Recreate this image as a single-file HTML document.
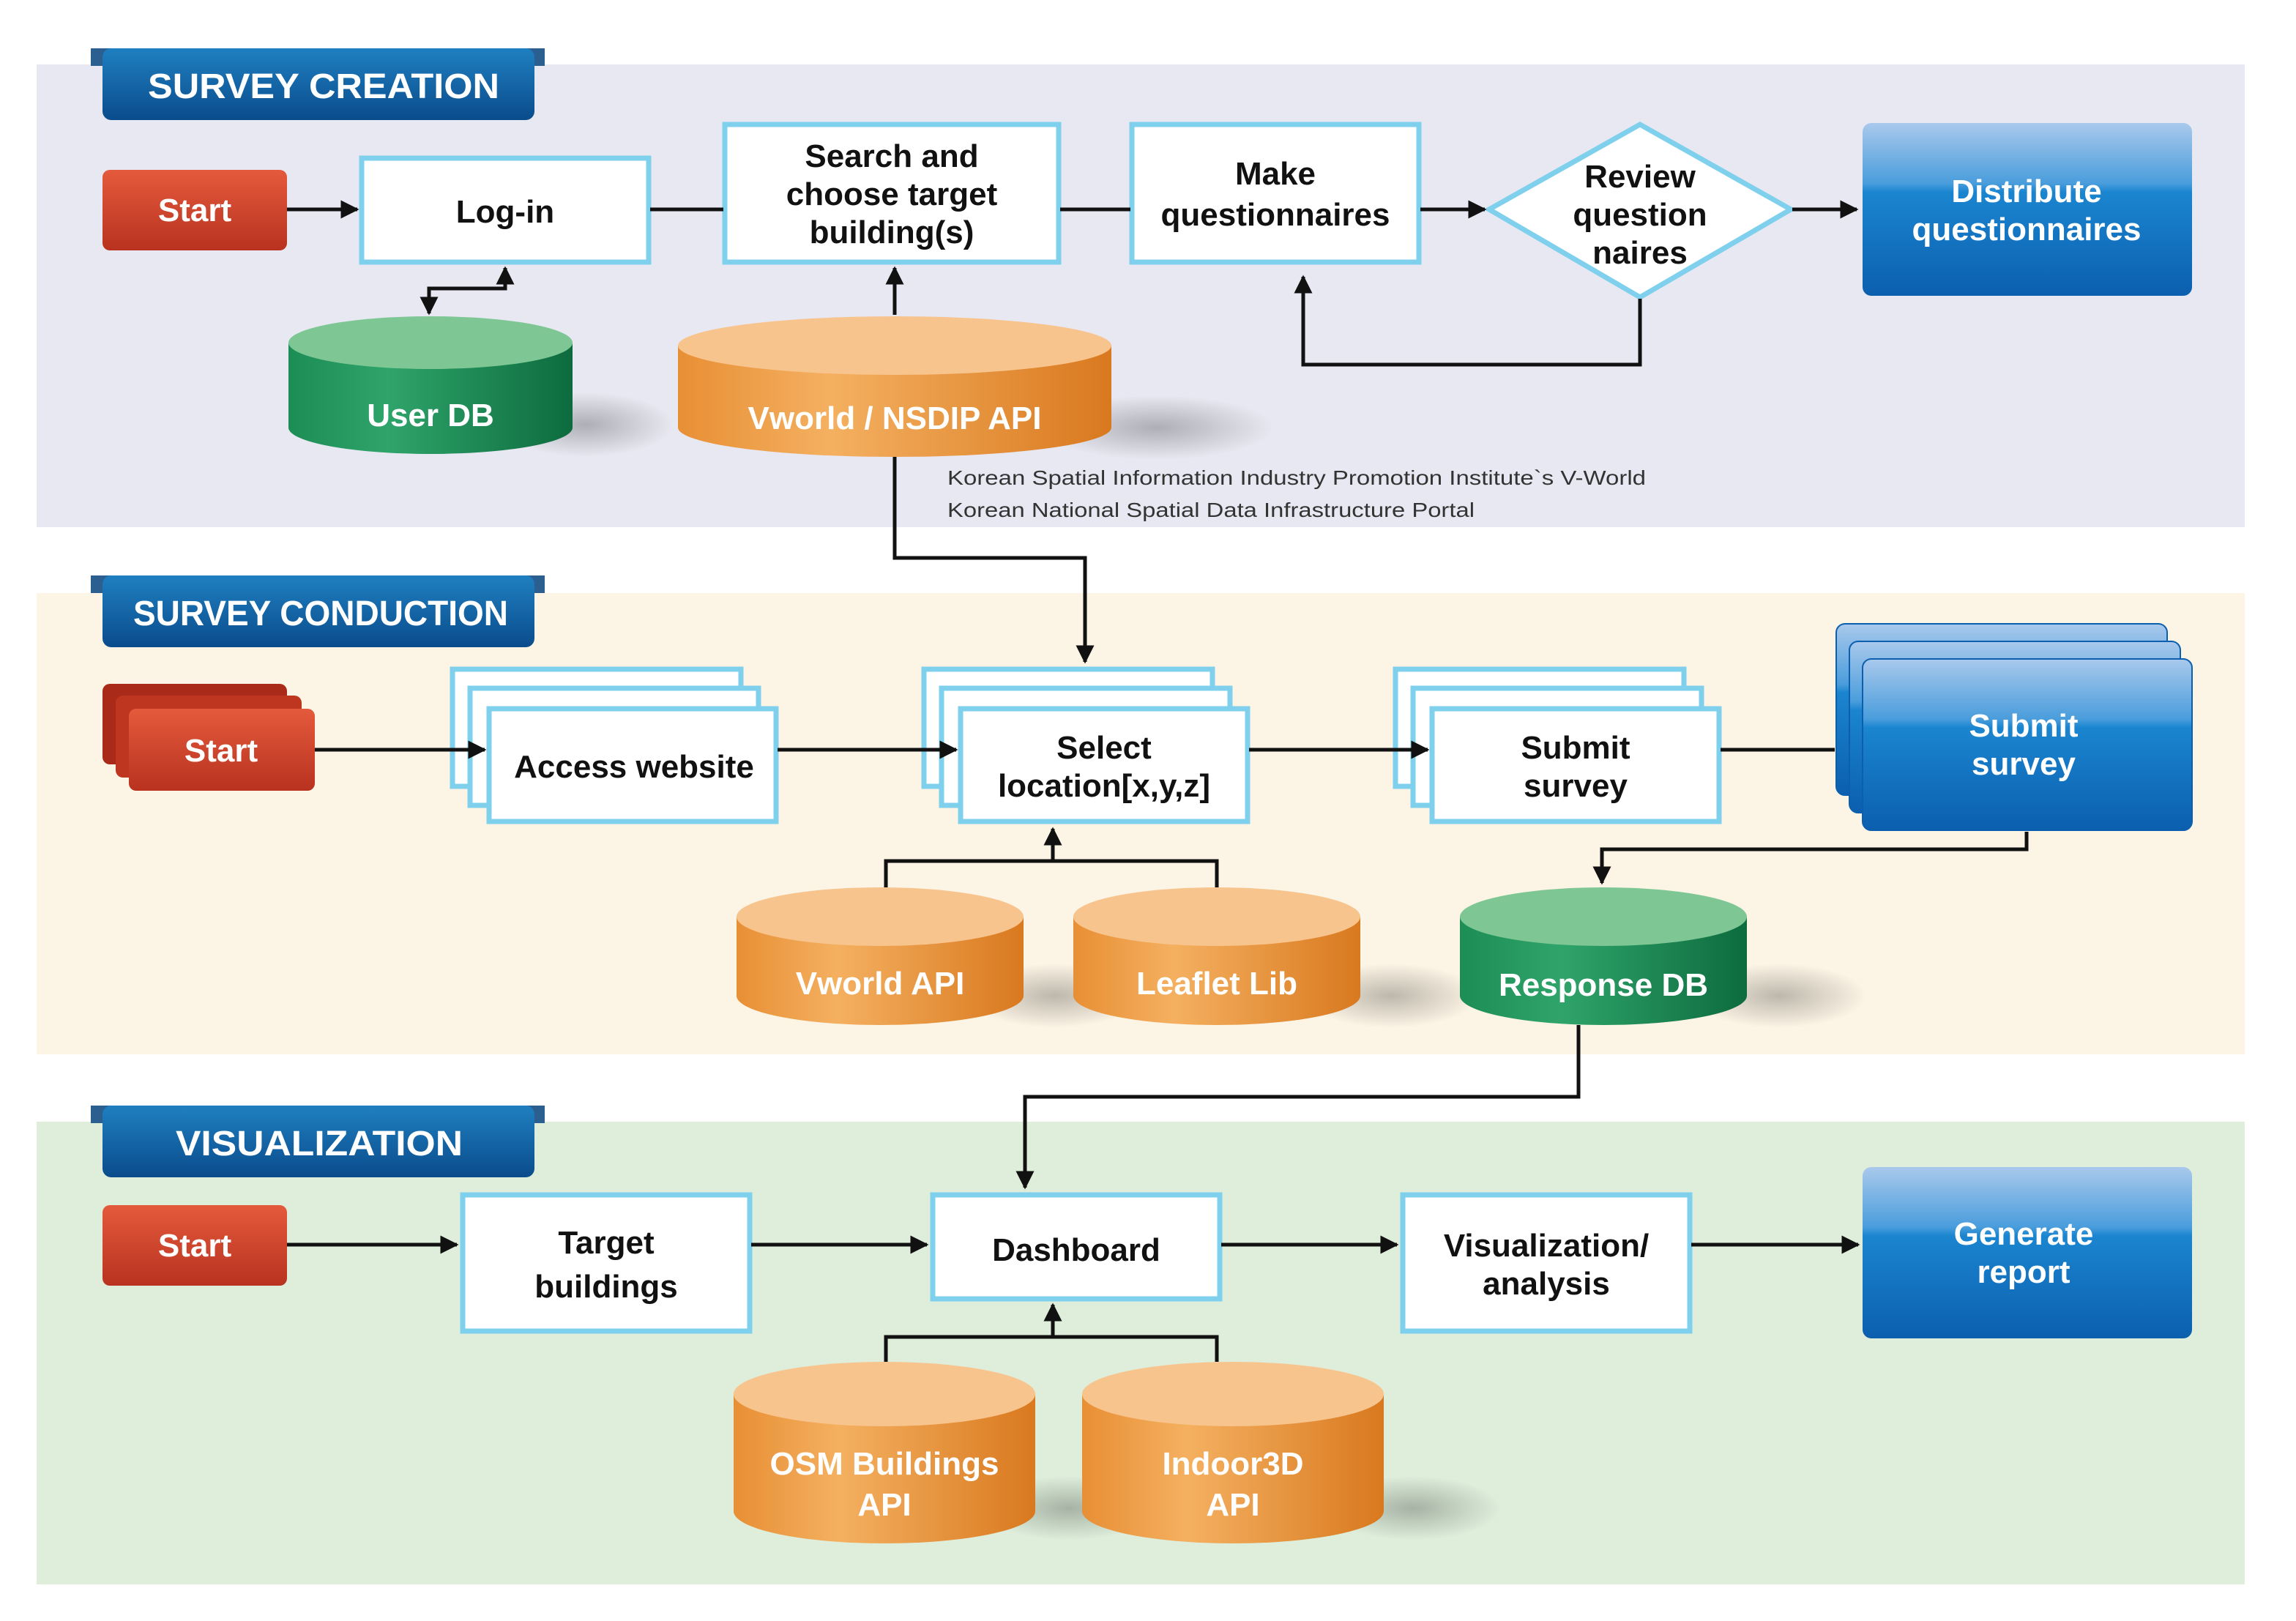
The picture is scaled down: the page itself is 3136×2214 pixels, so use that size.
<!DOCTYPE html>
<html><head><meta charset="utf-8"><style>
html,body{margin:0;padding:0;background:#fff}
svg{display:block}
text{font-family:"Liberation Sans",sans-serif;font-weight:bold}
</style></head><body>
<svg width="3136" height="2214" viewBox="0 0 1568 1107" xmlns="http://www.w3.org/2000/svg">
<defs>
<linearGradient id="tab" x1="0" y1="0" x2="0" y2="1"><stop offset="0" stop-color="#1f7fc0"/><stop offset="1" stop-color="#0a4c8c"/></linearGradient>
<linearGradient id="red" x1="0" y1="0" x2="0" y2="1"><stop offset="0" stop-color="#e45a3c"/><stop offset="1" stop-color="#b8321f"/></linearGradient>
<linearGradient id="blue" x1="0" y1="0" x2="0" y2="1"><stop offset="0" stop-color="#a9c9ec"/><stop offset="0.35" stop-color="#4a9ddc"/><stop offset="0.4" stop-color="#1b85d0"/><stop offset="1" stop-color="#0b5fae"/></linearGradient>
<linearGradient id="gbody" x1="0" y1="0" x2="1" y2="0"><stop offset="0" stop-color="#1c8d55"/><stop offset="0.35" stop-color="#2fa46a"/><stop offset="1" stop-color="#0d6b3e"/></linearGradient>
<linearGradient id="obody" x1="0" y1="0" x2="1" y2="0"><stop offset="0" stop-color="#e88f35"/><stop offset="0.35" stop-color="#f4b060"/><stop offset="1" stop-color="#d9791f"/></linearGradient>
<radialGradient id="shadow"><stop offset="0" stop-color="#000" stop-opacity="0.25"/><stop offset="1" stop-color="#000" stop-opacity="0"/></radialGradient>
<marker id="ah" viewBox="0 0 10 10" refX="9" refY="5" markerWidth="5" markerHeight="5" orient="auto"><path d="M0,0L10,5L0,10z" fill="#111"/></marker>
</defs>

<rect x="25" y="44" width="1508" height="316" fill="#e8e8f2"/>
<rect x="25" y="405" width="1508" height="315" fill="#fcf4e5"/>
<rect x="25" y="766" width="1508" height="316" fill="#deeedb"/>

<g>
<rect x="62" y="33" width="310" height="12" fill="#2a5f8f"/>
<rect x="70" y="33" width="295" height="49" rx="6" fill="url(#tab)"/>
<text x="221" y="67" fill="#fff" font-size="24" text-anchor="middle" textLength="240" lengthAdjust="spacingAndGlyphs">SURVEY CREATION</text>
<rect x="62" y="393" width="310" height="12" fill="#2a5f8f"/>
<rect x="70" y="393" width="295" height="49" rx="6" fill="url(#tab)"/>
<text x="219" y="427" fill="#fff" font-size="24" text-anchor="middle" textLength="256" lengthAdjust="spacingAndGlyphs">SURVEY CONDUCTION</text>
<rect x="62" y="755" width="310" height="12" fill="#2a5f8f"/>
<rect x="70" y="755" width="295" height="49" rx="6" fill="url(#tab)"/>
<text x="218" y="789" fill="#fff" font-size="24" text-anchor="middle" textLength="196" lengthAdjust="spacingAndGlyphs">VISUALIZATION</text>
</g>

<rect x="70" y="116" width="126" height="55" rx="5" fill="url(#red)"/>
<text x="133" y="151" fill="#fff" font-size="22" text-anchor="middle">Start</text>
<rect x="70" y="467" width="126" height="55" rx="5" fill="#a92a18"/>
<rect x="79" y="475" width="127" height="56" rx="5" fill="#bf3620"/>
<rect x="88" y="484" width="127" height="56" rx="5" fill="url(#red)"/>
<text x="151" y="520" fill="#fff" font-size="22" text-anchor="middle">Start</text>
<rect x="70" y="823" width="126" height="55" rx="5" fill="url(#red)"/>
<text x="133" y="858" fill="#fff" font-size="22" text-anchor="middle">Start</text>

<g fill="#fff" stroke="#7fd0ec" stroke-width="3.5">
<rect x="247" y="108" width="196" height="71"/>
<rect x="495" y="85" width="228" height="94"/>
<rect x="773" y="85" width="196" height="94"/>
<polygon points="1120,85 1223,143 1120,203 1017,143"/>
<rect x="309" y="457" width="197" height="80"/>
<rect x="321" y="470" width="197" height="80"/>
<rect x="334" y="484" width="196" height="77"/>
<rect x="631" y="457" width="197" height="80"/>
<rect x="643" y="470" width="197" height="80"/>
<rect x="656" y="484" width="196" height="77"/>
<rect x="953" y="457" width="197" height="80"/>
<rect x="965" y="470" width="197" height="80"/>
<rect x="978" y="484" width="196" height="77"/>
<rect x="316" y="816" width="196" height="93"/>
<rect x="637" y="816" width="196" height="71"/>
<rect x="958" y="816" width="196" height="93"/>
</g>

<rect x="1272" y="84" width="225" height="118" rx="6" fill="url(#blue)"/>
<rect x="1254" y="426" width="226" height="117" rx="6" fill="url(#blue)" stroke="#0b5fae"/>
<rect x="1263" y="438" width="226" height="117" rx="6" fill="url(#blue)" stroke="#0b5fae"/>
<rect x="1272" y="450" width="225" height="117" rx="6" fill="url(#blue)" stroke="#0b5fae"/>
<rect x="1272" y="797" width="225" height="117" rx="6" fill="url(#blue)"/>

<!-- connectors -->
<g stroke="#111" stroke-width="2.5" fill="none">
<line x1="196" y1="143" x2="244" y2="143" marker-end="url(#ah)"/>
<line x1="444" y1="143" x2="494" y2="143"/>
<line x1="724" y1="143" x2="772" y2="143"/>
<line x1="970" y1="143" x2="1014" y2="143" marker-end="url(#ah)"/>
<line x1="1224" y1="143" x2="1268" y2="143" marker-end="url(#ah)"/>
<polyline points="293,200 293,197 345,197 345,183" marker-end="url(#ah)"/>
<line x1="293" y1="197" x2="293" y2="214" marker-end="url(#ah)"/>
<line x1="611" y1="215" x2="611" y2="183" marker-end="url(#ah)"/>
<polyline points="1120,204 1120,249 890,249 890,189" marker-end="url(#ah)"/>
<polyline points="611,312 611,381 741,381 741,452" marker-end="url(#ah)"/>

<line x1="215" y1="512" x2="331" y2="512" marker-end="url(#ah)"/>
<line x1="531" y1="512" x2="653" y2="512" marker-end="url(#ah)"/>
<line x1="853" y1="512" x2="975" y2="512" marker-end="url(#ah)"/>
<line x1="1175" y1="512" x2="1253" y2="512"/>
<polyline points="605,606 605,588 831,588 831,606"/>
<line x1="719" y1="588" x2="719" y2="566" marker-end="url(#ah)"/>
<polyline points="1384,568 1384,580 1094,580 1094,603" marker-end="url(#ah)"/>
<polyline points="1078,700 1078,749 700,749 700,811" marker-end="url(#ah)"/>

<line x1="196" y1="850" x2="312" y2="850" marker-end="url(#ah)"/>
<line x1="513" y1="850" x2="633" y2="850" marker-end="url(#ah)"/>
<line x1="834" y1="850" x2="954" y2="850" marker-end="url(#ah)"/>
<line x1="1155" y1="850" x2="1269" y2="850" marker-end="url(#ah)"/>
<polyline points="605,930 605,913 831,913 831,930"/>
<line x1="719" y1="913" x2="719" y2="891" marker-end="url(#ah)"/>
</g>

<g fill="#111" font-size="22" text-anchor="middle">
<text x="345" y="152">Log-in</text>
<text x="609" y="114">Search and</text>
<text x="609" y="140">choose target</text>
<text x="609" y="166">building(s)</text>
<text x="871" y="126">Make</text>
<text x="871" y="154">questionnaires</text>
<text x="1120" y="128">Review</text>
<text x="1120" y="154">question</text>
<text x="1120" y="180">naires</text>
<text x="433" y="531">Access website</text>
<text x="754" y="518">Select</text>
<text x="754" y="544">location[x,y,z]</text>
<text x="1076" y="518">Submit</text>
<text x="1076" y="544">survey</text>
<text x="414" y="856">Target</text>
<text x="414" y="886">buildings</text>
<text x="735" y="861">Dashboard</text>
<text x="1056" y="858">Visualization/</text>
<text x="1056" y="884">analysis</text>
</g>
<g fill="#fff" font-size="22" text-anchor="middle">
<text x="1384" y="138">Distribute</text>
<text x="1384" y="164">questionnaires</text>
<text x="1382" y="503">Submit</text>
<text x="1382" y="529">survey</text>
<text x="1382" y="850">Generate</text>
<text x="1382" y="876">report</text>
</g>

<g>
<ellipse cx="400" cy="290" rx="60" ry="22" fill="url(#shadow)"/>
<path d="M197,234 L197,292 A97,18 0 0 0 391,292 L391,234 Z" fill="url(#gbody)"/>
<ellipse cx="294" cy="234" rx="97" ry="18" fill="#7ec795"/>
<text x="294" y="291" fill="#fff" font-size="22" text-anchor="middle">User DB</text>

<ellipse cx="790" cy="292" rx="80" ry="22" fill="url(#shadow)"/>
<path d="M463,236 L463,292 A148,20 0 0 0 759,292 L759,236 Z" fill="url(#obody)"/>
<ellipse cx="611" cy="236" rx="148" ry="20" fill="#f8c48e"/>
<text x="611" y="293" fill="#fff" font-size="22" text-anchor="middle">Vworld / NSDIP API</text>

<ellipse cx="720" cy="680" rx="60" ry="22" fill="url(#shadow)"/>
<path d="M503,626 L503,680 A98,20 0 0 0 699,680 L699,626 Z" fill="url(#obody)"/>
<ellipse cx="601" cy="626" rx="98" ry="20" fill="#f8c48e"/>
<text x="601" y="679" fill="#fff" font-size="22" text-anchor="middle">Vworld API</text>

<ellipse cx="950" cy="680" rx="60" ry="22" fill="url(#shadow)"/>
<path d="M733,626 L733,680 A98,20 0 0 0 929,680 L929,626 Z" fill="url(#obody)"/>
<ellipse cx="831" cy="626" rx="98" ry="20" fill="#f8c48e"/>
<text x="831" y="679" fill="#fff" font-size="22" text-anchor="middle">Leaflet Lib</text>

<ellipse cx="1215" cy="680" rx="60" ry="22" fill="url(#shadow)"/>
<path d="M997,626 L997,680 A98,20 0 0 0 1193,680 L1193,626 Z" fill="url(#gbody)"/>
<ellipse cx="1095" cy="626" rx="98" ry="20" fill="#7ec795"/>
<text x="1095" y="680" fill="#fff" font-size="22" text-anchor="middle">Response DB</text>

<ellipse cx="730" cy="1030" rx="60" ry="22" fill="url(#shadow)"/>
<path d="M501,952 L501,1032 A103,22 0 0 0 707,1032 L707,952 Z" fill="url(#obody)"/>
<ellipse cx="604" cy="952" rx="103" ry="22" fill="#f8c48e"/>
<text x="604" y="1007" fill="#fff" font-size="22" text-anchor="middle">OSM Buildings</text>
<text x="604" y="1035" fill="#fff" font-size="22" text-anchor="middle">API</text>

<ellipse cx="965" cy="1030" rx="60" ry="22" fill="url(#shadow)"/>
<path d="M739,952 L739,1032 A103,22 0 0 0 945,1032 L945,952 Z" fill="url(#obody)"/>
<ellipse cx="842" cy="952" rx="103" ry="22" fill="#f8c48e"/>
<text x="842" y="1007" fill="#fff" font-size="22" text-anchor="middle">Indoor3D</text>
<text x="842" y="1035" fill="#fff" font-size="22" text-anchor="middle">API</text>
</g>

<text x="647" y="331" fill="#333" font-size="14" style="font-weight:normal" textLength="477" lengthAdjust="spacingAndGlyphs">Korean Spatial Information Industry Promotion Institute`s V-World</text>
<text x="647" y="353" fill="#333" font-size="14" style="font-weight:normal" textLength="360" lengthAdjust="spacingAndGlyphs">Korean National Spatial Data Infrastructure Portal</text>
</svg>
</body></html>
